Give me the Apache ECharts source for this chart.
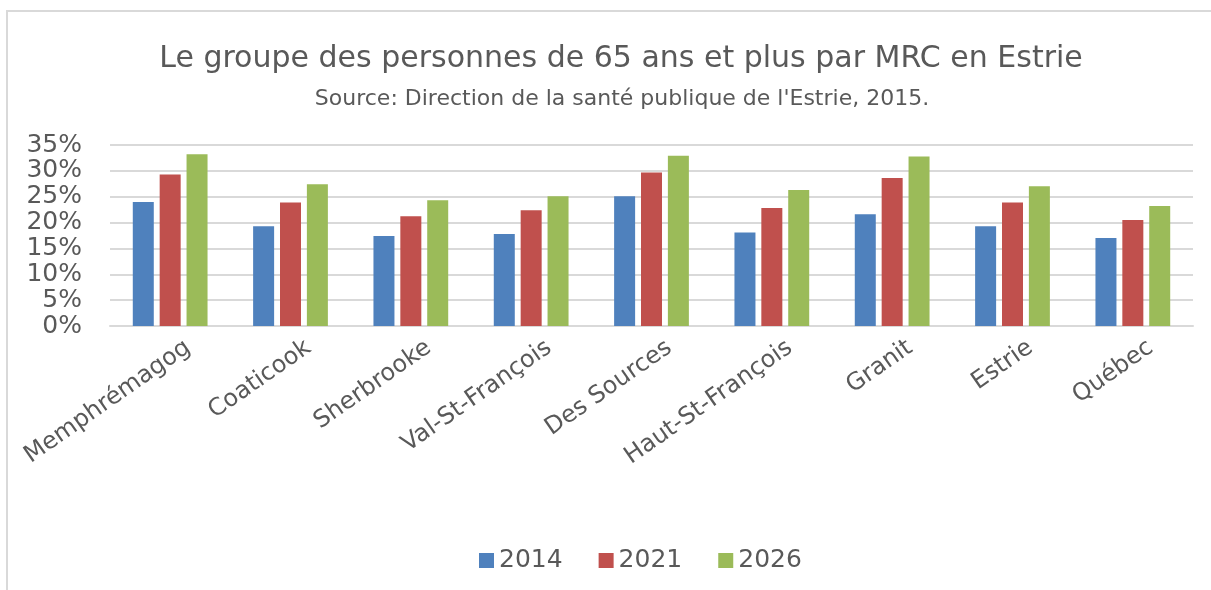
<!DOCTYPE html>
<html>
<head>
<meta charset="utf-8">
<script src="https://cdn.jsdelivr.net/npm/echarts@6/dist/echarts.min.js"></script>
<style>
  html, body { margin: 0; padding: 0; background: #fff; overflow: hidden; }
  #frame { position: absolute; left: 6px; top: 10px; width: 1300px; height: 700px; border-left: 2px solid #d9d9d9; border-top: 2px solid #d9d9d9; }
  #chart { position: absolute; left: 0; top: 0; width: 1211px; height: 590px; }
</style>
</head>
<body>
<div id="frame"></div>
<div id="chart"></div>
<script>
var categories = ['Memphrémagog', 'Coaticook', 'Sherbrooke', 'Val-St-François', 'Des Sources',
  'Haut-St-François', 'Granit', 'Estrie', 'Québec'];
var years = ['2014', '2021', '2026'];
var values2014 = [24.0, 19.3, 17.4, 17.8, 25.1, 18.1, 21.6, 19.3, 17.0];
var values2021 = [29.3, 23.9, 21.2, 22.4, 29.7, 22.8, 28.6, 23.9, 20.5];
var values2026 = [33.2, 27.4, 24.3, 25.1, 32.9, 26.3, 32.8, 27.0, 23.2];

var COLORS = ['#4f81bd', '#c0504d', '#9bbb59'];
var FONT = 'DejaVu Sans';
var TEXT = '#595959';

var myChart = echarts.init(document.getElementById('chart'));

function barSeries(name, data, color) {
  return {
    name: name,
    type: 'bar',
    data: data,
    barWidth: 21,
    barGap: '28%',
    itemStyle: { color: color }
  };
}

var option = {
  animation: false,
  title: [
    {
      text: 'Le groupe des personnes de 65 ans et plus par MRC en Estrie',
      left: 616, top: 39, textAlign: 'center',
      textStyle: { fontFamily: FONT, fontSize: 30, fontWeight: 'normal', color: TEXT }
    },
    {
      text: "Source: Direction de la santé publique de l'Estrie, 2015.",
      left: 617, top: 83, textAlign: 'center',
      textStyle: { fontFamily: FONT, fontSize: 22, fontWeight: 'normal', color: TEXT }
    }
  ],
  legend: {
    data: years,
    bottom: 12,
    left: 474,
    itemWidth: 15,
    itemHeight: 15,
    itemGap: 36,
    icon: 'rect',
    textStyle: { fontFamily: FONT, fontSize: 25, color: TEXT }
  },
  grid: { left: 110, right: 18, top: 145, bottom: 264 },
  xAxis: {
    type: 'category',
    data: categories,
    axisLine: { lineStyle: { color: '#d9d9d9', width: 2 } },
    axisTick: { show: false },
    axisLabel: {
      rotate: 35, margin: 32, interval: 0,
      padding: [0, -22, 0, 0],
      fontFamily: FONT, fontSize: 24, color: TEXT
    }
  },
  yAxis: {
    type: 'value',
    min: 0, max: 35, interval: 5,
    axisLine: { show: false },
    axisTick: { show: false },
    splitLine: { lineStyle: { color: '#d9d9d9', width: 2 } },
    axisLabel: {
      formatter: '{value}%', margin: 28,
      fontFamily: FONT, fontSize: 25, color: TEXT
    }
  },
  series: [
    barSeries(years[0], values2014, COLORS[0]),
    barSeries(years[1], values2021, COLORS[1]),
    barSeries(years[2], values2026, COLORS[2])
  ]
};
myChart.setOption(option);
</script>
</body>
</html>
